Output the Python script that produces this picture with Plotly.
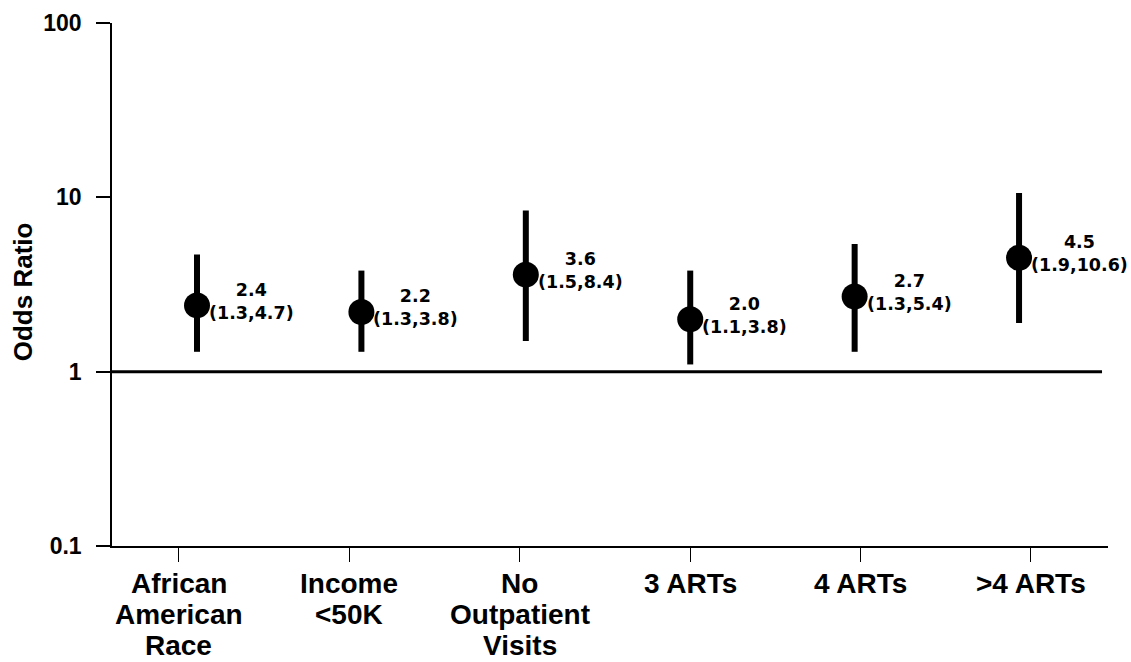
import math
import plotly.graph_objects as go

# ---- data ----
CATEGORY_LINES = [
    ["African", "American", "Race"],
    ["Income", "&lt;50K"],
    ["No", "Outpatient", "Visits"],
    ["3 ARTs"],
    ["4 ARTs"],
    ["&gt;4 ARTs"],
]
ODDS_RATIO = [2.4, 2.2, 3.6, 2.0, 2.7, 4.5]
CI_LOW = [1.3, 1.3, 1.5, 1.1, 1.3, 1.9]
CI_HIGH = [4.7, 3.8, 8.4, 3.8, 5.4, 10.6]
Y_TICKS = [0.1, 1, 10, 100]
Y_TICK_LABELS = ["0.1", "1", "10", "100"]
REFERENCE_OR = 1
Y_TITLE = "Odds Ratio"

# ---- styling ----
SANS = "Liberation Sans, Arial, Helvetica, sans-serif"
WIDE = "DejaVu Sans, Verdana, sans-serif"
BLACK = "black"

positions = list(range(len(CATEGORY_LINES)))
err_plus = [h - o for h, o in zip(CI_HIGH, ODDS_RATIO)]
err_minus = [o - l for o, l in zip(ODDS_RATIO, CI_LOW)]

fig = go.Figure()
fig.add_trace(go.Scatter(
    x=positions, y=ODDS_RATIO, xaxis="x2", yaxis="y",
    mode="markers",
    marker=dict(size=26, color=BLACK, line=dict(width=0)),
    error_y=dict(type="data", symmetric=False, array=err_plus,
                 arrayminus=err_minus, thickness=6, width=0, color=BLACK),
    showlegend=False, hoverinfo="skip",
))

annotations = []
# value + confidence interval labels (log axis -> annotation y in log10 units)
for p, o, lo, hi in zip(positions, ODDS_RATIO, CI_LOW, CI_HIGH):
    annotations.append(dict(
        x=p, y=math.log10(o), xref="x2", yref="y",
        text=f"{o:.1f}<br>({lo:.1f},{hi:.1f})",
        showarrow=False, xanchor="left", yanchor="middle", align="center",
        xshift=11, yshift=4, borderpad=0,
        font=dict(family=WIDE, size=17.5, color=BLACK, weight="bold"),
    ))
# category labels, one line each
for p, lines in zip(positions, CATEGORY_LINES):
    for k, line in enumerate(lines):
        annotations.append(dict(
            x=p, y=0, xref="x", yref="paper",
            text=line, showarrow=False, xanchor="center", yanchor="middle",
            yshift=-37 - 31 * k, borderpad=0,
            font=dict(family=SANS, size=28, color=BLACK, weight="bold"),
        ))
# y-axis title
annotations.append(dict(
    x=-0.0899, y=0.486, xref="paper", yref="paper", text=Y_TITLE,
    textangle=-90, showarrow=False, xanchor="center", yanchor="middle",
    font=dict(family=SANS, size=26, color=BLACK, weight="bold"),
))

fig.update_layout(
    width=1131, height=662,
    margin=dict(l=112, r=23, t=23, b=116, autoexpand=False),
    paper_bgcolor="white", plot_bgcolor="white",
    xaxis=dict(
        type="linear", range=[-0.393, 5.452],
        tickvals=positions, showticklabels=False,
        ticks="outside", ticklen=14, tickwidth=1, tickcolor=BLACK,
        showline=True, linecolor=BLACK, linewidth=2,
        showgrid=False, zeroline=False, fixedrange=True,
    ),
    xaxis2=dict(
        type="linear", range=[-0.517, 5.541], overlaying="x",
        visible=False, showgrid=False, zeroline=False, fixedrange=True,
    ),
    yaxis=dict(
        type="log", range=[-1, 2],
        tickvals=Y_TICKS, ticktext=Y_TICK_LABELS,
        ticks="outside", ticklen=14, tickwidth=1.5, tickcolor=BLACK,
        ticklabelstandoff=10,
        tickfont=dict(family=SANS, size=23, color=BLACK, weight="bold"),
        showline=True, linecolor=BLACK, linewidth=1.5,
        showgrid=False, zeroline=False, fixedrange=True,
    ),
    shapes=[dict(
        type="line", xref="paper", yref="y", x0=0, x1=0.994,
        y0=REFERENCE_OR, y1=REFERENCE_OR,
        line=dict(color=BLACK, width=3), layer="below",
    )],
    annotations=annotations,
)

fig.write_html(
    "out.html",
    config={"displayModeBar": False},
    post_script="document.body.style.margin='0px';document.body.style.padding='0px';",
)
